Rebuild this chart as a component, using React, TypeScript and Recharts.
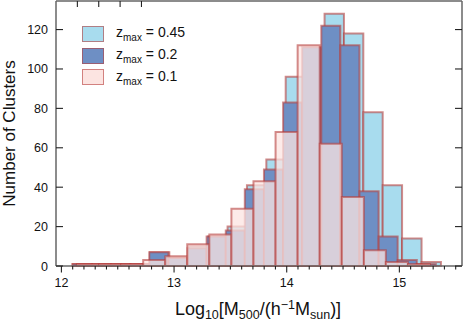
import React from "react";
import { ComposedChart, XAxis, YAxis, ReferenceArea, Line } from "recharts";

// bin edges (log10 mass), one more edge than counts
const EDGES_045 = [
  12.097, 12.269, 12.441, 12.614, 12.786, 12.958, 13.13, 13.302, 13.475, 13.647,
  13.819, 13.991, 14.163, 14.336, 14.508, 14.68, 14.852, 15.024, 15.197, 15.369,
];
const COUNTS_045 = [1, 1, 1, 1, 7, 4, 10, 15, 20, 41, 54, 96, 110, 128, 118, 78, 41, 14, 2];

const EDGES_02 = [
  12.102, 12.272, 12.441, 12.611, 12.78, 12.95, 13.12, 13.289, 13.459, 13.628,
  13.798, 13.968, 14.137, 14.307, 14.476, 14.646, 14.816, 14.985, 15.155, 15.324,
];
const COUNTS_02 = [1, 1, 1, 1, 7, 4, 9, 15, 18, 39, 49, 83, 111, 122, 112, 38, 15, 3, 1];

const EDGES_01 = [
  12.138, 12.334, 12.53, 12.726, 12.922, 13.117, 13.313, 13.509, 13.705,
  13.901, 14.097, 14.293, 14.489, 14.685, 14.88, 15.076, 15.272,
];
const COUNTS_01 = [1, 1, 1, 3, 5, 11, 16, 29, 43, 68, 112, 62, 35, 8, 2, 1];

const Y_TICKS = [0, 20, 40, 60, 80, 100, 120];
const X_MAJOR = [12, 13, 14, 15];
const X_MINOR = [
  12.0, 12.1, 12.2, 12.3, 12.4, 12.5, 12.6, 12.7, 12.8, 12.9,
  13.0, 13.1, 13.2, 13.3, 13.4, 13.5, 13.6, 13.7, 13.8, 13.9,
  14.0, 14.1, 14.2, 14.3, 14.4, 14.5, 14.6, 14.7, 14.8, 14.9,
  15.0, 15.1, 15.2, 15.3, 15.4, 15.5,
];
const TOP_TICKS = [1, 2, 3, 4];

const SERIES = [
  { label: "0.45", edges: EDGES_045, counts: COUNTS_045, fill: "#a8dcee", opacity: 1 },
  { label: "0.2", edges: EDGES_02, counts: COUNTS_02, fill: "#6e8fc4", opacity: 1 },
  { label: "0.1", edges: EDGES_01, counts: COUNTS_01, fill: "#fce4e1", opacity: 0.75 },
];

// rows only so the axes get built; the invisible line draws nothing
const AXIS_ROWS = EDGES_045.map((m) => ({ m, top: 2.5 }));

const FONT = "'Liberation Sans', Arial, Helvetica, sans-serif";
const EDGE = "#b5403e";
const TICK = "#222";
const SPINE = { stroke: "#666", strokeWidth: 1.5 };

const BottomTick = (props: any) => {
  const { x, y, payload } = props;
  const v = payload.value;
  const major = X_MAJOR.some((m) => Math.abs(m - v) < 1e-6);
  return (
    <g>
      <line x1={x} x2={x} y1={y} y2={y + (major ? 6.5 : 3.5)} stroke={TICK} strokeWidth={1.1} />
      {major && (
        <text x={x} y={y + 21} textAnchor="middle" fontSize={12.5} fontFamily={FONT} fill="#111">
          {Math.round(v)}
        </text>
      )}
    </g>
  );
};

const LeftTick = (props: any) => {
  const { x, y, payload } = props;
  return (
    <g>
      <line x1={x} x2={x + 7} y1={y} y2={y} stroke={TICK} strokeWidth={1.1} />
      <text x={x - 8} y={y + 4.5} textAnchor="end" fontSize={12.5} fontFamily={FONT} fill="#111">
        {payload.value}
      </text>
    </g>
  );
};

const RightTick = (props: any) => {
  const { x, y } = props;
  return <line x1={x} x2={x - 7} y1={y} y2={y} stroke={TICK} strokeWidth={1.1} />;
};

const TopTick = (props: any) => {
  const { x, y } = props;
  return <line x1={x} x2={x} y1={y} y2={y + 6} stroke={TICK} strokeWidth={1.1} />;
};

const XLabel = (props: any) => {
  const vb = props.viewBox || { x: 56, y: 266, width: 406 };
  return (
    <text
      x={vb.x + vb.width / 2 - 1}
      y={vb.y + 49}
      textAnchor="middle"
      fontSize={18}
      fontFamily={FONT}
      fill="#111"
    >
      Log
      <tspan fontSize={12.5} dy={4}>10</tspan>
      <tspan dy={-4}>[M</tspan>
      <tspan fontSize={12.5} dy={4}>500</tspan>
      <tspan dy={-4}>/(h</tspan>
      <tspan fontSize={12.5} dy={-6}>−1</tspan>
      <tspan dy={6}>M</tspan>
      <tspan fontSize={12.5} dy={4}>sun</tspan>
      <tspan dy={-4}>)]</tspan>
    </text>
  );
};

const YLabel = (props: any) => {
  const vb = props.viewBox || { x: 0, y: 1, width: 56, height: 265 };
  const cy = vb.y + vb.height / 2;
  return (
    <text
      x={15}
      y={cy}
      transform={`rotate(-90, 15, ${cy})`}
      textAnchor="middle"
      fontSize={17}
      fontFamily={FONT}
      fill="#111"
    >
      Number of Clusters
    </text>
  );
};

const ChartLegend = () => (
  <div style={{ position: "absolute", left: 82, top: 23, fontFamily: FONT, fontSize: 14, color: "#111" }}>
    {SERIES.map((s) => (
      <div key={s.label} style={{ display: "flex", alignItems: "center", height: 21.7 }}>
        <div
          style={{
            width: 20,
            height: 14,
            background: s.fill,
            border: "1.5px solid rgba(181,64,62,0.6)",
            marginRight: 12,
          }}
        />
        <span>
          z<sub style={{ fontSize: 10 }}>max</sub> = {s.label}
        </span>
      </div>
    ))}
  </div>
);

export default function App() {
  return (
    <div style={{ position: "absolute", left: 0, top: 0, width: 463, height: 321, background: "#fff" }}>
      <ComposedChart
        width={463}
        height={321}
        data={AXIS_ROWS}
        margin={{ top: 0, right: 0, bottom: 0, left: 0 }}
      >
        <XAxis
          xAxisId={0}
          dataKey="m"
          type="number"
          domain={[11.952, 15.556]}
          allowDataOverflow
          ticks={X_MINOR}
          interval={0}
          tickSize={0}
          tickMargin={0}
          tick={<BottomTick />}
          axisLine={SPINE}
          tickLine={false}
          height={55}
          label={<XLabel />}
        />
        <XAxis
          xAxisId="top"
          orientation="top"
          type="number"
          domain={[0, 5]}
          allowDataOverflow
          ticks={TOP_TICKS}
          interval={0}
          tickSize={0}
          tickMargin={0}
          tick={<TopTick />}
          axisLine={SPINE}
          tickLine={false}
          height={1}
        />
        <YAxis
          yAxisId={0}
          type="number"
          domain={[0, 134.5]}
          allowDataOverflow
          ticks={Y_TICKS}
          interval={0}
          tickSize={0}
          tickMargin={0}
          tick={<LeftTick />}
          axisLine={SPINE}
          tickLine={false}
          width={56}
          label={<YLabel />}
        />
        <YAxis
          yAxisId="right"
          orientation="right"
          type="number"
          domain={[0, 134.5]}
          allowDataOverflow
          ticks={Y_TICKS}
          interval={0}
          tickSize={0}
          tickMargin={0}
          tick={<RightTick />}
          axisLine={SPINE}
          tickLine={false}
          width={1}
        />
        <Line
          xAxisId={0}
          yAxisId={0}
          dataKey="top"
          stroke="none"
          dot={false}
          activeDot={false}
          isAnimationActive={false}
        />
        {SERIES.map((s) =>
          s.counts.map((c, i) => (
            <ReferenceArea
              key={`${s.label}-${i}`}
              xAxisId={0}
              yAxisId={0}
              x1={s.edges[i]}
              x2={s.edges[i + 1]}
              y1={0}
              y2={c}
              fill={s.fill}
              fillOpacity={s.opacity}
              stroke={EDGE}
              strokeOpacity={0.6}
              strokeWidth={2}
              ifOverflow="visible"
            />
          ))
        )}
      </ComposedChart>
      <ChartLegend />
    </div>
  );
}
